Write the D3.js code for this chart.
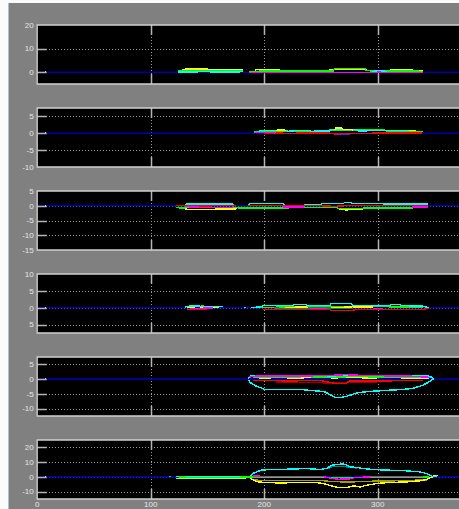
<!DOCTYPE html>
<html>
<head>
<meta charset="utf-8">
<script src="https://cdn.jsdelivr.net/npm/d3@7"></script>
<style>
  html, body { margin: 0; padding: 0; background: #ffffff; overflow: hidden; }
  svg { display: block; }
</style>
</head>
<body>
<svg id="fig" width="459" height="509"></svg>
<script>
// ---- shared x axis -------------------------------------------------------
const xDomain = [0, 380];
const xTicks = [0, 100, 200, 300];
const xTickLabels = ["0", "100", "200", "300"];

// reference sample drawn on every zero line
const refPoint = [7, 0];

// ---- panel y axes ------------------------------------------------------------
const p1Domain = [-5, 20];    const p1Ticks = [0, 10, 20];          const p1Labels = ["0", "10", "20"];
const p2Domain = [-10, 7.5];  const p2Ticks = [-10, -5, 0, 5];      const p2Labels = ["-10", "-5", "0", "5"];
const p3Domain = [-15, 5];    const p3Ticks = [-15, -10, -5, 0, 5]; const p3Labels = ["-15", "-10", "-5", "0", "5"];
const p4Domain = [-7.5, 10];  const p4Ticks = [-5, 0, 5, 10];       const p4Labels = ["5", "0", "5", "10"];
const p5Domain = [-12.5, 7.5];const p5Ticks = [-10, -5, 0, 5];      const p5Labels = ["-10", "-5", "0", "5"];
const p6Domain = [-15, 25];   const p6Ticks = [-10, 0, 10, 20];     const p6Labels = ["-10", "0", "10", "20"];

// ---- traces: [x, y] samples, null marks a gap ------------------------------
// panel 1
const p1Yellow  = [[128,1.0],[131,1.3],[150,1.3],[152,1.0],[165,0.9],[178,1.1],[181,0.9],null,[192,0.9],[194,1.1],[213,1.1],[215,0.6],[256,0.6],[258,1.1],[289,1.1],[291,0.6],[311,0.7],[312,1.1],[330,1.1],[332,0.6],[340,0.6]];
const p1Green   = [[124,0.4],[130,0.7],[150,0.8],[181,0.6],null,[187,0.4],[230,0.5],[261,0.5],[262,1.5],[289,1.5],[290,0.6],[320,0.5],[340,0.4]];
const p1Cyan    = [[124,0.1],[150,0.2],[165,0.0],[181,0.2],null,[295,0.3],[300,0.6],[306,0.5],[308,0.2]];
const p1Magenta = [[187,-0.1],[230,0.0],[262,-0.2],[289,-0.2],[300,0.0],[340,-0.1]];

// panel 2
const p2Green   = [[191,0.4],[195,0.6],[220,0.5],[240,0.6],[256,0.6],[258,1.0],[306,1.0],[308,0.6],[340,0.5]];
const p2Cyan    = [[195,0.6],[198,0.9],[220,0.9],[221,0.6],[226,0.7],[228,0.9],[240,0.9],[241,0.6],[258,0.7],[259,1.2],[282,1.2],[283,0.7],[305,0.8],[306,0.9],[328,0.9],[329,0.6]];
const p2Yellow  = [[210,0.8],[212,1.0],[218,1.0],[219,0.7],null,[262,1.0],[263,1.6],[268,1.6],[269,1.1],[277,1.1],[278,0.8],null,[328,0.9],[334,0.9]];
const p2Red     = [[192,0.2],[220,0.0],[257,0.1],[262,-0.2],[288,-0.1],[300,0.1],[339,0.1]];
const p2Magenta = [[192,0.3],[205,0.3],[210,0.1]];
const p2Purple  = [[264,-0.4],[276,-0.4]];

// panel 3
const p3Cyan    = [[130,0.3],[132,0.6],[172,0.6],[173,0.2],null,[186,0.3],[187,0.7],[217,0.7],[218,0.3],null,[235,0.3],[236,0.4],[250,0.5],[251,0.7],[270,0.8],[271,1.2],[276,1.2],[277,0.7],[344,0.6]];
const p3Red     = [[122,0.1],[140,-0.1],[175,0.1],null,[186,0.0],[250,0.0],[262,-0.2],[270,0.0],[300,0.1],[344,0.0]];
const p3Magenta = [[130,-0.3],[143,-0.5],[172,-0.5],[173,-0.2],null,[216,-0.2],[217,-0.4],[235,-0.4],[236,-0.2],null,[330,-0.2],[331,-0.4],[344,-0.4]];
const p3Green   = [[122,-0.6],[128,-0.8],[132,-0.6],[176,-0.6],[178,-0.8],[186,-0.8],[217,-0.8],[223,-0.6],[264,-0.6],[266,-1.0],[282,-1.0],[288,-0.8],[330,-0.8],[332,-0.6],[344,-0.6]];
const p3Yellow  = [[130,-1.1],[135,-1.3],[150,-1.2],[175,-1.1],[176,-0.8],null,[266,-1.2],[272,-1.4],[280,-1.3],[287,-1.1]];
const p3Olive   = [[186,-0.9],[200,-1.0],[217,-1.0],[222,-0.9]];

// panel 4
const p4Cyan    = [[130,0.2],[135,0.5],[150,0.4],[164,0.3],null,[182,0.1],[184,0.1],null,[188,0.0],[197,0.3],[199,0.6],[225,0.6],[226,0.9],[237,0.9],[238,0.6],[258,0.7],[259,1.2],[277,1.2],[278,0.6],[311,0.6],[312,0.9],[320,0.9],[321,0.6],[339,0.5],[345,0.0]];
const p4Teal    = [[209,0.0],[215,-0.2],[258,-0.1],[260,-0.3],[277,-0.3],[278,0.0]];
const p4Yellow  = [[132,0.0],[140,0.3],[160,0.1],null,[218,0.1],[237,0.2],[238,0.0],[281,0.2],[296,0.2]];
const p4Red     = [[132,-0.5],[145,-0.6],[150,-0.4],null,[199,-0.5],[230,-0.6],[258,-0.6],[260,-0.9],[277,-0.9],[280,-0.6],[338,-0.6],[345,-0.2]];
const p4Magenta = [[135,-0.2],[155,-0.1],null,[240,-0.2],[255,-0.3],null,[296,-0.2],[305,-0.3]];
const p4Green   = [[140,0.3],[146,0.5],[152,0.2],null,[190,0.1],[230,0.2],[300,0.3],[330,0.2],[340,0.1]];

// panel 5
const p5Cyan    = [[186,-0.2],[187.5,-1.1],[192,-2.2],[198,-3.1],[201,-3.6],[205,-3.6],[220,-3.5],[231.5,-3.5],[240,-3.8],[249,-4.1],[254,-4.4],[258,-5.3],[262,-6.1],[267,-6.3],[273,-5.8],[277,-5.3],[281.5,-4.7],[287,-4.4],[296,-4.1],[308,-3.8],[322.5,-3.5],[331,-3.1],[339,-2.2],[344.5,-1.1],[347.5,-0.3],[349,0.0],[348,0.6],[345,1.0],[300,1.0],[240,1.0],[200,1.1],[188,1.0],[186,0.2]];
const p5Magenta = [[187,0.7],[192,1.0],[230,1.0],[260,1.3],[272,1.5],[290,1.2],[330,1.0],[346,0.6]];
const p5Green   = [[190,0.7],[240,0.8],[260,0.6],[280,0.9],[300,0.7],[340,0.6]];
const p5Yellow  = [[195,0.3],[210,0.5],[230,0.4],[250,0.6],[262,0.4],[275,0.6],[290,0.4],[310,0.5],[330,0.4],[345,0.3]];
const p5Red     = [[190,-0.4],[220,-0.6],[250,-0.5],[262,-1.4],[272,-1.4],[275,-0.7],[300,-0.6],[340,-0.5]];
const p5DarkRed = [[210,-1.0],[240,-1.2],[265,-1.3],[285,-1.1],[300,-0.9]];

// panel 6
const p6Cyan    = [[122,0.2],[140,0.3],[170,0.1],[187.5,0.0],[190,2.3],[195,3.9],[198,4.6],[202,4.8],[210,5.2],[220,5.2],[231.5,5.5],[240,5.5],[249,5.0],[255,5.7],[256.5,6.4],[259.5,7.8],[264,8.5],[270,8.7],[273,8.0],[275.5,6.8],[281.5,6.4],[287,5.7],[296,5.0],[308,4.6],[325.5,4.1],[337,3.4],[343,2.3],[346,1.2],[348,0.0],[349,0.3],[352,0.5]];
const p6Teal    = [[256,5.5],[260,7.0],[265,7.2],[270,7.0],[275,6.5],[282,6.0]];
const p6Yellow  = [[187.5,-0.2],[188,-0.7],[190.5,-2.3],[195,-3.4],[202,-3.9],[214,-4.1],[231.5,-3.9],[246,-3.9],[252,-4.5],[259.5,-6.1],[264,-7.0],[272.5,-7.3],[278.5,-6.1],[284.5,-6.8],[290,-5.7],[299,-4.5],[308,-3.9],[325.5,-3.4],[337,-2.7],[343,-1.8],[346,-0.7],[349,0.0],null,[349,0.8],[353,0.9]];
const p6Olive   = [[190,-1.5],[195,-2.4],[220,-2.6],[250,-2.5],[260,-3.2],[275,-3.5],[290,-3.0],[320,-2.6],[343,-2.0]];
const p6Lime    = [[122,-1.1],[140,-1.2],[160,-1.1],[170,-1.0],[185,-0.6]];
const p6Green   = [[116,0.2],[118,0.3],null,[125,-0.2],[150,-0.3],[187,-0.2],[220,-0.4],[260,-0.5],[300,-0.3],[345,-0.2]];
const p6Magenta = [[190,0.5],[220,0.3],[250,0.4],[258,-0.8],[265,-1.6],[275,-1.5],[280,-0.5],[300,0.3],[340,0.4]];

// ---- styling -------------------------------------------------------------------
const palette = {
  cyan: "#00ffff", green: "#00ff00", yellow: "#ffff00", magenta: "#ff00ff",
  red: "#ff0000", darkred: "#a00000", olive: "#a0a000", teal: "#008080",
  purple: "#6a1fd0", lime: "#a8ff30"
};

const panels = [
  { domain: p1Domain, ticks: p1Ticks, labels: p1Labels,
    traces: [[p1Yellow,"yellow"],[p1Green,"green"],[p1Cyan,"cyan"],[p1Magenta,"magenta"]] },
  { domain: p2Domain, ticks: p2Ticks, labels: p2Labels,
    traces: [[p2Red,"red"],[p2Magenta,"magenta"],[p2Green,"green"],[p2Cyan,"cyan"],[p2Yellow,"yellow"],[p2Purple,"purple"]] },
  { domain: p3Domain, ticks: p3Ticks, labels: p3Labels,
    traces: [[p3Olive,"olive"],[p3Yellow,"yellow"],[p3Green,"green"],[p3Red,"red"],[p3Magenta,"magenta"],[p3Cyan,"cyan"]] },
  { domain: p4Domain, ticks: p4Ticks, labels: p4Labels,
    traces: [[p4Green,"green"],[p4Yellow,"yellow"],[p4Teal,"teal"],[p4Red,"red"],[p4Magenta,"magenta"],[p4Cyan,"cyan"]] },
  { domain: p5Domain, ticks: p5Ticks, labels: p5Labels,
    traces: [[p5DarkRed,"darkred"],[p5Red,"red"],[p5Cyan,"cyan"],[p5Yellow,"yellow"],[p5Green,"green"],[p5Magenta,"magenta"]] },
  { domain: p6Domain, ticks: p6Ticks, labels: p6Labels,
    traces: [[p6Olive,"olive"],[p6Yellow,"yellow"],[p6Teal,"teal"],[p6Cyan,"cyan"],[p6Lime,"lime"],[p6Green,"green"],[p6Magenta,"magenta"]] }
];

// ---- layout ----------------------------------------------------------------------
const W = 459, H = 509;
const axLeft = 37.2, pxPerUnit = 1.135;
const axTop0 = 25, panelStep = 83, panelH = 59;
const tickLen = 9.5;

const svg = d3.select("#fig");

// figure window background
svg.append("rect").attr("x", 0).attr("y", 0).attr("width", W).attr("height", H).attr("fill", "#fbfbfb");
svg.append("rect").attr("x", 9).attr("y", 3).attr("width", W - 9).attr("height", H - 3).attr("fill", "#808080");
svg.append("line").attr("x1", 8.5).attr("x2", 8.5).attr("y1", 3).attr("y2", H)
  .attr("stroke", "#aebfd6").attr("stroke-width", 1);

const x = d3.scaleLinear().domain(xDomain).range([axLeft, axLeft + (xDomain[1] - xDomain[0]) * pxPerUnit]);
const xEnd = x.range()[1];

const labelFont = "'Liberation Sans', Arial, Helvetica, sans-serif";

panels.forEach((p, i) => {
  const top = axTop0 + i * panelStep;
  const y = d3.scaleLinear().domain(p.domain).range([top + panelH, top]);
  const g = svg.append("g");

  // axes background
  g.append("rect").attr("x", x(xDomain[0])).attr("y", top)
    .attr("width", xEnd - x(xDomain[0])).attr("height", panelH).attr("fill", "#000000");

  const clipId = "clip" + i;
  g.append("clipPath").attr("id", clipId).append("rect")
    .attr("x", x(xDomain[0])).attr("y", top).attr("width", xEnd - x(xDomain[0])).attr("height", panelH);

  // dotted grid
  const grid = g.append("g").attr("stroke", "#9a9a9a").attr("stroke-width", 1)
    .attr("stroke-dasharray", "1,2").attr("shape-rendering", "crispEdges");
  grid.selectAll("line.h").data(p.ticks.filter(t => t > p.domain[0] && t < p.domain[1])).join("line")
    .attr("class", "h")
    .attr("x1", x(xDomain[0])).attr("x2", xEnd)
    .attr("y1", d => Math.round(y(d)) + 0.5).attr("y2", d => Math.round(y(d)) + 0.5);
  grid.selectAll("line.v").data(xTicks.filter(t => t > xDomain[0])).join("line")
    .attr("class", "v")
    .attr("y1", top).attr("y2", top + panelH)
    .attr("x1", d => Math.round(x(d)) + 0.5).attr("x2", d => Math.round(x(d)) + 0.5);

  // zero reference line
  g.append("line")
    .attr("x1", x(xDomain[0])).attr("x2", xEnd)
    .attr("y1", y(0)).attr("y2", y(0))
    .attr("stroke", "#0000a8").attr("stroke-width", 1.6);
  g.append("rect")
    .attr("x", Math.round(x(refPoint[0]))).attr("y", Math.round(y(refPoint[1])) - 1)
    .attr("width", 1).attr("height", 1).attr("fill", "#d8d8d8");

  // signal traces
  const line = d3.line()
    .defined(d => d !== null)
    .x(d => x(d[0]))
    .y(d => y(d[1]));
  const tg = g.append("g").attr("clip-path", `url(#${clipId})`);
  p.traces.forEach(([data, colorKey]) => {
    tg.append("path")
      .attr("d", line(data))
      .attr("fill", "none")
      .attr("stroke", palette[colorKey])
      .attr("stroke-width", 1.4)
      .attr("stroke-linejoin", "miter")
      .attr("shape-rendering", "crispEdges");
  });

  // tick marks
  const ticks = g.append("g").attr("stroke", "#b4b4b4").attr("stroke-width", 1.5);
  ticks.selectAll("line.yt").data(p.ticks.filter(t => t > p.domain[0] && t < p.domain[1])).join("line")
    .attr("class", "yt")
    .attr("x1", x(xDomain[0])).attr("x2", x(xDomain[0]) + tickLen)
    .attr("y1", d => Math.round(y(d)) + 0.5).attr("y2", d => Math.round(y(d)) + 0.5);
  const innerX = xTicks.filter(t => t > xDomain[0]);
  ticks.selectAll("line.xtTop").data(innerX).join("line")
    .attr("class", "xtTop")
    .attr("x1", d => Math.round(x(d)) + 0.5).attr("x2", d => Math.round(x(d)) + 0.5)
    .attr("y1", top).attr("y2", top + tickLen + 0.5);
  ticks.selectAll("line.xtBot").data(innerX).join("line")
    .attr("class", "xtBot")
    .attr("x1", d => Math.round(x(d)) + 0.5).attr("x2", d => Math.round(x(d)) + 0.5)
    .attr("y1", top + panelH).attr("y2", top + panelH - tickLen - 0.5);

  // axes box (right edge lies beyond the window)
  g.append("path")
    .attr("d", `M${xEnd},${top}H${x(xDomain[0])}V${top + panelH}H${xEnd}`)
    .attr("fill", "none").attr("stroke", "#d0d0d0").attr("stroke-width", 1.3);

  // y tick labels
  g.append("g").selectAll("text").data(p.ticks).join("text")
    .attr("x", x(xDomain[0]) - 3.5)
    .attr("y", d => y(d))
    .attr("dy", "0.35em")
    .attr("text-anchor", "end")
    .attr("font-family", labelFont)
    .attr("font-size", 8)
    .attr("fill", "#e6e6e6")
    .text((d, k) => p.labels[k]);

  // x tick labels under the last panel only
  if (i === panels.length - 1) {
    g.append("g").selectAll("text").data(xTicks).join("text")
      .attr("x", d => x(d))
      .attr("y", top + panelH + 8.2)
      .attr("text-anchor", "middle")
      .attr("font-family", labelFont)
      .attr("font-size", 8)
      .attr("fill", "#e6e6e6")
      .text((d, k) => xTickLabels[k]);
  }
});
</script>
</body>
</html>
